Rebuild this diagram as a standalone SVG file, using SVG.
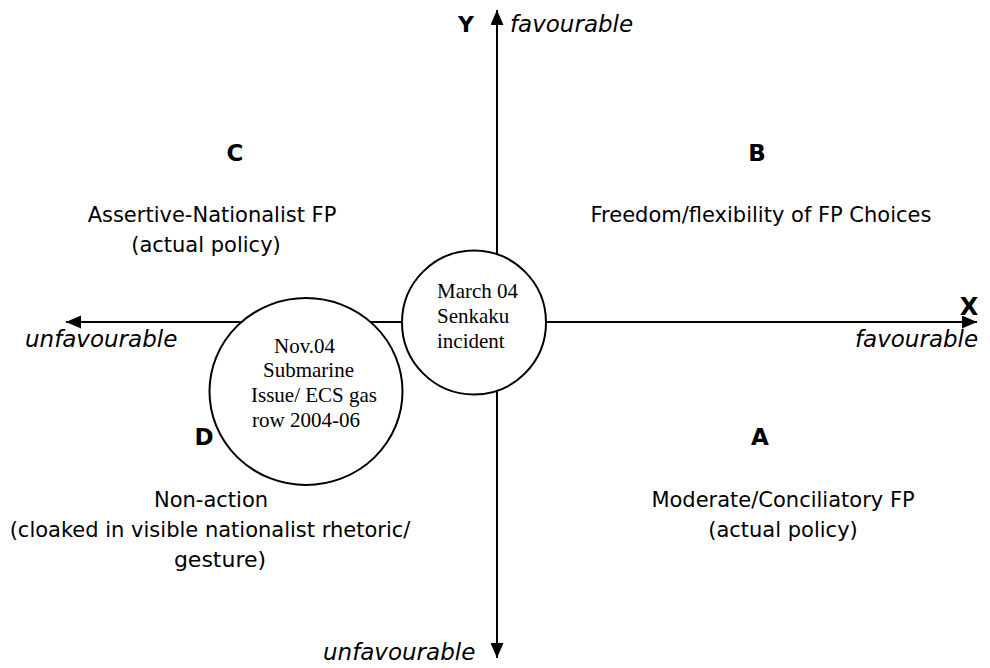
<svg xmlns="http://www.w3.org/2000/svg" width="990" height="668" viewBox="0 0 990 668">
<style>
.lbl{font-family:"DejaVu Sans","Verdana",sans-serif;font-size:21px;fill:#000;text-anchor:middle}
.big{font-family:"DejaVu Sans","Verdana",sans-serif;font-size:23px;font-weight:bold;fill:#000;text-anchor:middle}
.it{font-family:"DejaVu Sans","Verdana",sans-serif;font-size:23px;font-style:italic;fill:#000}
.ev{font-family:"Liberation Serif","Times New Roman",serif;font-size:21px;fill:#000}
.axis{stroke:#000;stroke-width:2;fill:none}
.node{fill:#fff;stroke:#000;stroke-width:2}
</style>
<defs>
<marker id="arr" markerUnits="userSpaceOnUse" markerWidth="16" markerHeight="14" refX="15" refY="6.5" orient="auto-start-reverse">
<path d="M0,0 L15,6.5 L0,13 Z" fill="#000"/>
</marker>
</defs>
<rect width="990" height="668" fill="#fff"/>
<g id="connectors">
<line class="axis" x1="497" y1="658" x2="497" y2="10" marker-end="url(#arr)" marker-start="url(#arr)"/>
<line class="axis" x1="66" y1="322" x2="977" y2="322" marker-end="url(#arr)" marker-start="url(#arr)"/>
</g>
<g id="axis-labels">
<text class="big" x="466" y="32" style="font-size:22px">Y</text>
<text class="it" x="510" y="32">favourable</text>
<text class="big" x="969" y="315" style="font-size:24px">X</text>
<text class="it" x="855" y="347">favourable</text>
<text class="it" x="25" y="347">unfavourable</text>
<text class="it" x="323" y="660">unfavourable</text>
</g>
<g id="quadrant-C">
<text class="big" x="235" y="161">C</text>
<text class="lbl" x="212" y="222">Assertive-Nationalist FP</text>
<text class="lbl" x="206" y="252">(actual policy)</text>
</g>
<g id="quadrant-B">
<text class="big" x="757" y="161">B</text>
<text class="lbl" x="761" y="222">Freedom/flexibility of FP Choices</text>
</g>
<g id="quadrant-A">
<text class="big" x="760" y="445">A</text>
<text class="lbl" x="783" y="507">Moderate/Conciliatory FP</text>
<text class="lbl" x="783" y="537">(actual policy)</text>
</g>
<g id="quadrant-D">
<text class="big" x="204" y="445">D</text>
<text class="lbl" x="211" y="507">Non-action</text>
<text class="lbl" x="210" y="537">(cloaked in visible nationalist rhetoric/</text>
<text class="lbl" x="220" y="567" style="font-size:22px">gesture)</text>
</g>
<g id="event-march04">
<circle class="node" cx="474" cy="322.5" r="72"/>
<text class="ev" x="437" y="298">March 04</text>
<text class="ev" x="437" y="323">Senkaku</text>
<text class="ev" x="437" y="348">incident</text>
</g>
<g id="event-nov04">
<ellipse class="node" cx="306" cy="391.5" rx="96.5" ry="93.5"/>
<text class="ev" x="274" y="353">Nov.04</text>
<text class="ev" x="263" y="377">Submarine</text>
<text class="ev" x="251" y="402">Issue/ ECS gas</text>
<text class="ev" x="252" y="427">row 2004-06</text>
</g>
</svg>
